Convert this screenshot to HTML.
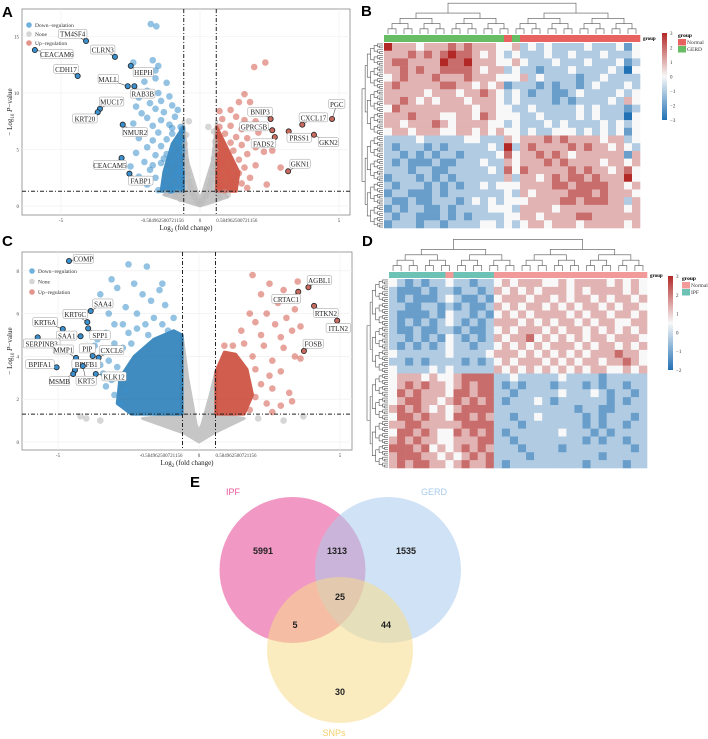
<!DOCTYPE html>
<html><head><meta charset="utf-8"><style>
body{margin:0;background:#fff;}
svg{display:block;font-family:"Liberation Serif",serif;}
.pl{font-family:"Liberation Sans",sans-serif;font-weight:bold;font-size:15px;}
</style></head><body>
<svg id="fig" width="708" height="739" viewBox="0 0 708 739" xmlns="http://www.w3.org/2000/svg">
<g id="gA"></g>
<g id="gC"></g>
<g id="gB"></g>
<g id="gD"></g>
<g id="gE"></g>
</svg>
<script>
// ---------- Volcano A data ----------
const aLabelNames=["TM4SF4","CLRN3","CEACAM6","CDH17","HEPH","MALL","RAB3B","MUC17","KRT20","NMUR2","CEACAM5","FABP1","BNIP3","GPRC5B","FADS2","PGC","CXCL17","PRSS1","GKN2","GKN1"];
const aLabelPts=[[-4.1,14.6],[-3.06,13.2],[-5.94,13.8],[-4.4,11.5],[-2.49,12.4],[-2.6,10.6],[-2.36,10.6],[-3.6,8.6],[-3.68,8.3],[-2.78,7.2],[-2.82,4.25],[-2.54,2.86],[2.54,7.7],[2.6,6.7],[2.69,6.1],[4.75,7.7],[3.68,7.2],[3.19,6.6],[4.1,6.3],[3.17,3.07]];
const aLabelPos=[[-4.58,15.2],[-3.5,13.8],[-5.15,13.4],[-4.82,12.1],[-2.04,11.8],[-3.3,11.2],[-2.06,9.9],[-3.18,9.2],[-4.14,7.7],[-2.34,6.5],[-3.24,3.6],[-2.13,2.2],[2.16,8.3],[1.94,7.0],[2.28,5.5],[4.92,9.0],[4.08,7.8],[3.57,6.0],[4.62,5.6],[3.6,3.7]];
const aDown=[[-1.77,16.1],[-1.57,15.9],[-2.4,12.7],[-1.7,12.9],[-1.5,12.4],[-1.6,12.0],[-2.0,11.0],[-1.6,11.3],[-1.2,10.9],[-1.5,10.0],[-1.9,10.2],[-2.2,9.6],[-1.4,9.3],[-1.8,9.1],[-1.1,9.7],[-2.3,8.8],[-1.6,8.6],[-1.0,8.9],[-2.1,8.2],[-1.3,8.3],[-0.8,8.5],[-1.9,7.8],[-1.4,7.6],[-0.9,7.9],[-2.4,7.3],[-1.7,7.1],[-1.1,7.2],[-0.7,7.0],[-2.0,6.6],[-1.5,6.5],[-1.0,6.4],[-0.65,6.8],[-2.2,6.0],[-1.7,5.8],[-1.2,5.9],[-0.8,5.7],[-1.9,5.2],[-1.4,5.3],[-1.0,5.0],[-0.7,5.4],[-2.3,4.7],[-1.6,4.5],[-1.2,4.6],[-0.8,4.4],[-2.0,3.9],[-1.4,3.8],[-1.0,3.9],[-0.7,3.6],[-2.5,3.5],[-1.8,3.2],[-1.2,3.1],[-0.85,3.0],[-0.65,2.8],[-2.2,2.6],[-1.6,2.5],[-1.1,2.3],[-0.75,2.2],[-1.9,1.9],[-1.3,1.8],[-0.9,1.6],[-0.7,1.5],[-1.5,1.4],[-1.05,1.35],[-0.65,4.9],[-0.65,5.9],[-0.7,3.2],[-0.9,2.7],[-1.3,4.2],[-1.7,3.6],[-1.0,6.9]];
const aUp=[[2.35,12.7],[1.95,12.3],[1.6,9.9],[1.8,9.2],[1.4,9.2],[1.1,8.5],[0.7,8.4],[1.3,7.9],[0.8,7.7],[1.6,7.6],[2.0,7.5],[0.7,7.0],[1.1,7.1],[1.5,6.8],[2.1,6.5],[0.9,6.4],[1.3,6.1],[1.7,6.0],[2.4,5.5],[0.7,5.9],[1.1,5.6],[1.5,5.4],[2.0,5.2],[0.8,5.0],[1.2,4.9],[1.7,4.6],[0.65,4.5],[1.0,4.3],[1.4,4.1],[2.3,4.8],[0.8,3.8],[1.2,3.6],[1.6,3.4],[2.0,3.6],[0.7,3.2],[1.0,3.0],[1.4,2.9],[1.8,2.5],[0.75,2.6],[1.1,2.3],[1.5,2.0],[0.8,1.9],[1.2,1.7],[1.7,1.6],[0.65,1.5],[2.4,1.9],[0.9,1.4],[2.9,3.4],[2.6,4.9]];
const aNone=[[0,0.2],[-0.1,0.4],[0.1,0.5],[-0.2,0.8],[0.2,0.9],[-0.3,1.2],[0.3,1.3],[-0.35,1.7],[0.35,1.8],[-0.4,2.2],[0.4,2.3],[-0.45,2.8],[0.45,2.9],[-0.5,3.4],[0.5,3.5],[-0.5,4.0],[0.5,4.2],[-0.55,4.8],[0.55,4.9],[-0.55,5.5],[0.55,5.7],[-0.5,6.3],[0.5,6.6],[-0.4,7.5],[0.3,7.0],[-0.9,0.9],[-0.7,0.6],[0.7,0.8],[1.0,1.0],[-1.2,1.1],[-0.6,1.1],[0.6,1.2],[-0.8,1.2],[0.9,1.25]];
const aDownDense=[[-0.6,1.3],[-1.4,1.3],[-1.3,3],[-1.0,5.5],[-0.6,7]];
const aUpDense=[[0.6,1.3],[1.3,1.3],[1.4,3],[1.0,5],[0.6,7]];
const aNoneDense=[[-0.6,7.5],[-0.6,1.3],[-1.3,1.0],[-0.4,0.3],[0,0],[0.4,0.3],[1.0,0.8],[0.6,1.3],[0.6,7.5],[0.45,4],[0.1,1.2],[0,0.6],[-0.1,1.2],[-0.45,4]];
const aYTicks=[0,5,10,15];
const aXTicks=[-5,-0.584962500721156,0,0.584962500721156,5];
// ---------- Volcano C data ----------
const cLabelNames=["COMP","SAA4","KRT6C","KRT6A","SAA1","SPP1","SERPINB3","MMP1","PIP","CXCL6","BPIFB1","BPIFA1","KLK12","MSMB","KRT5","AGBL1","CRTAC1","RTKN2","ITLN2","FOSB"];
const cLabelPts=[[-4.61,8.46],[-3.84,6.12],[-3.96,5.6],[-4.83,5.28],[-4.2,4.94],[-3.93,5.31],[-5.72,4.89],[-4.36,3.93],[-3.77,4.02],[-3.56,3.94],[-4.4,3.36],[-5.05,3.49],[-3.66,3.18],[-4.46,3.18],[-4.12,3.55],[3.88,7.23],[3.52,7.02],[4.08,6.36],[4.9,5.67],[3.72,4.25]];
const cLabelPos=[[-4.1,8.54],[-3.41,6.45],[-4.39,5.96],[-5.46,5.59],[-4.69,4.95],[-3.51,4.97],[-5.58,4.58],[-4.81,4.3],[-3.96,4.35],[-3.1,4.27],[-4.0,3.63],[-5.64,3.61],[-3.01,3.04],[-4.95,2.82],[-4.0,2.84],[4.27,7.54],[3.09,6.67],[4.5,6.01],[4.94,5.31],[4.05,4.57]];
const cDown=[[-2.5,8.3],[-1.85,8.2],[-3.1,7.6],[-2.9,7.2],[-2.3,7.4],[-1.4,7.1],[-1.3,7.4],[-3.5,6.9],[-2.0,6.9],[-1.7,6.6],[-2.6,6.3],[-1.2,6.4],[-3.2,6.0],[-2.2,6.0],[-1.6,5.8],[-0.9,5.8],[-3.0,5.5],[-2.7,5.5],[-1.9,5.5],[-3.3,5.1],[-2.5,5.1],[-3.6,4.8],[-3.0,4.6],[-2.7,4.4],[-3.4,4.2],[-3.2,3.8],[-2.9,3.5],[-3.4,3.2],[-3.1,2.9],[-2.6,2.4],[-3.0,2.2],[-2.8,1.8],[-3.3,2.6],[-2.2,5.3],[-1.3,5.5],[-3.7,4.5],[-3.5,3.6],[-2.4,4.6],[-1.8,5.0],[-1.1,5.2]];
const cUp=[[1.9,7.8],[2.5,7.4],[3.5,7.5],[2.2,6.9],[3.0,7.1],[2.8,6.5],[3.4,6.2],[1.8,6.0],[2.4,6.0],[3.1,5.8],[2.0,5.6],[2.7,5.5],[3.6,5.4],[3.3,5.2],[1.5,5.2],[2.2,5.0],[2.9,4.9],[1.6,4.6],[2.3,4.5],[3.0,4.4],[3.4,4.0],[3.6,3.9],[1.9,4.0],[2.6,3.8],[2.0,3.4],[2.5,3.1],[2.9,3.3],[2.2,2.7],[2.6,2.5],[3.2,2.3],[2.0,2.1],[2.4,1.8],[2.9,1.7],[1.8,1.5],[2.6,1.4],[3.3,1.9],[1.2,4.5],[0.9,4.5]];
const cNone=[[-4.0,1.1],[-3.5,1.0],[2.1,1.1],[3.0,1.0],[3.7,1.2],[-4.2,1.2]];
const cDownDense=[[-0.6,1.3],[-2.4,1.3],[-2.9,1.8],[-2.8,3.0],[-2.3,4.0],[-1.6,4.8],[-0.9,5.2],[-0.6,5.0]];
const cUpDense=[[0.6,1.3],[1.6,1.3],[1.9,2.2],[1.7,3.4],[1.3,4.1],[0.9,4.2],[0.6,3.3]];
const cNoneDense=[[-0.6,5.0],[-0.6,1.3],[-2.0,1.1],[-0.5,0.4],[0,0],[0.5,0.4],[1.6,1.1],[0.6,1.3],[0.6,3.3],[0.4,2.2],[0.1,0.8],[0,0.5],[-0.1,0.8],[-0.4,3]];
const cYTicks=[0,2,4,6,8];
const cXTicks=[-5,-0.584962500721156,0,0.584962500721156,5];
// ---------- Heatmap B data (rows of values -3..3 coded 0..6) ----------
const bGroups="GGGGGGGGGGGGGGGNGNNNNNNNNNNNNNNN";
const bRows=["64443444545444334232322223222313",
"44454545655434323222322322232223",
"45544446556444334322232223222312",
"44545445555434423221222322223203",
"34544454445444333423222212232222",
"45444445544343412221212212322232",
"44444344434454323212211232222323",
"44543434443444323222212122223243",
"35444444444344332232222232322212",
"44454443344354333223222232322203",
"44344454344443323222323222232323",
"34434443344343433232233323232313",
"22223222223322243444545444434423",
"21222121222223262454444545443432",
"22121212212222353445454344444414",
"21211121122232243444545444434434",
"22212211222223253544444545443453",
"12221212122222242443454554544463",
"21222121212232333444455455554434",
"12211121222222232434444555454443",
"21121122212323233344445545554424",
"12122112122223332444434444444434",
"21221112121222233443444455444444",
"12221221222233232344344434444434"];
const bTicks=[3,2,1,0,-1,-2,-3];
// ---------- Heatmap D data ----------
const dGroups="TTTTTTTNTTTTTNNNNNNNNNNNNNNNNNNN";
const dRows=["32121223221223434443343444434343",
"21112122122124343434443434444343",
"21211123211213444344343443434434",
"22112212121124343443434344343443",
"21111213221213434344443434434434",
"21212123212124443434344343443344",
"21121122121123434443434434343434",
"22121213212124344534343434434443",
"21212123221223434343444343443434",
"32222223222234443434343434445443",
"22121222212123434443434344344543",
"32222323222224343434343434433434",
"34443433455552232222232222122222",
"34545443454552121222122212122122",
"35454443554552212222232223212212",
"34554434545452122232122222212122",
"45454343455552222222222122112222",
"35545443554542212232222212122212",
"44554444455552221222222212122122",
"35545433545452122222232221212222",
"45454433444552212222222212122122",
"55545343454542221222212222222212",
"45554434345452222122222222122222",
"45455443454452122222222212222122"];
const dTicks=[3,2,1,0,-1,-2];
// ---------- Venn data ----------
const vennSets=["IPF","GERD","SNPs"];
const vennCounts=[5991,1313,1535,25,5,44,30];

const NS="http://www.w3.org/2000/svg";
function mk(parent,tag,attrs,name,txt){const e=document.createElementNS(NS,tag);for(const k in attrs)e.setAttribute(k,attrs[k]);


if(txt!==undefined)e.textContent=txt;parent.appendChild(e);return e;}

function volcano(g,cfg){
 const sx=v=>cfg.x0+cfg.kx*v, sy=v=>cfg.y0-cfg.ky*v;
 mk(g,'rect',{x:cfg.L,y:cfg.T,width:cfg.R-cfg.L,height:cfg.B-cfg.T,fill:'#fff',stroke:'#888','stroke-width':0.8},'plot-frame');
 cfg.yt.forEach(t=>{mk(g,'line',{x1:cfg.L,x2:cfg.R,y1:sy(t),y2:sy(t),stroke:'#eee','stroke-width':0.6},'y-gridline');
  mk(g,'text',{x:cfg.L-3,y:sy(t)+2,'font-size':5,'text-anchor':'end',fill:'#444'},'y-tick-label',String(t));});
 cfg.xt.forEach(t=>{mk(g,'line',{y1:cfg.T,y2:cfg.B,x1:sx(t),x2:sx(t),stroke:'#eee','stroke-width':0.6},'x-gridline');
  mk(g,'text',{x:sx(t),y:cfg.B+7,'font-size':5,'text-anchor':t<0&&t>-1?'end':(t>0&&t<1?'start':'middle'),fill:'#444'},'x-tick-label',String(t));});
 const poly=(pts,col,nm)=>mk(g,'polygon',{points:pts.map(p=>sx(p[0])+','+sy(p[1])).join(' '),fill:col,opacity:0.85,stroke:col,'stroke-width':3,'stroke-linejoin':'round'},nm);
 poly(cfg.noneD,'#bdbdbd','none-density');
 poly(cfg.downD,'#1f77b4','down-density');
 poly(cfg.upD,'#c8412f','up-density');
 cfg.none.forEach(p=>mk(g,'circle',{cx:sx(p[0]),cy:sy(p[1]),r:3.3,fill:'#bbb',opacity:0.6},'none-point'));
 cfg.down.forEach(p=>mk(g,'circle',{cx:sx(p[0]),cy:sy(p[1]),r:3.3,fill:'#3a8fcc',opacity:0.55},'down-point'));
 cfg.up.forEach(p=>mk(g,'circle',{cx:sx(p[0]),cy:sy(p[1]),r:3.3,fill:'#d4594a',opacity:0.55},'up-point'));
 [-0.584962500721156,0.584962500721156].forEach(v=>mk(g,'line',{x1:sx(v),x2:sx(v),y1:cfg.T,y2:cfg.B,stroke:'#222','stroke-width':1,'stroke-dasharray':'4 2 1 2'},'fc-threshold-line'));
 mk(g,'line',{x1:cfg.L,x2:cfg.R,y1:sy(1.3),y2:sy(1.3),stroke:'#222','stroke-width':1,'stroke-dasharray':'4 2 1 2'},'p-threshold-line');
 cfg.names.forEach((n,i)=>{const p=cfg.pts[i],q=cfg.pos[i];
  const px=sx(p[0]),py=sy(p[1]),qx=sx(q[0]),qy=sy(q[1]);
  mk(g,'line',{x1:px,y1:py,x2:qx,y2:qy,stroke:'#333','stroke-width':0.5},'label-leader');
  mk(g,'circle',{cx:px,cy:py,r:2.6,fill:p[0]<0?'#3a8fcc':'#c86a5f',stroke:'#222','stroke-width':0.8},'labeled-point');
  const w=n.length*4.1+4;
  mk(g,'rect',{x:qx-w/2,y:qy-5,width:w,height:9,rx:1.5,fill:'#fff',stroke:'#999','stroke-width':0.5},'gene-label-box');
  mk(g,'text',{x:qx,y:qy+2.5,'font-size':7,'text-anchor':'middle',fill:'#222'},'gene-label',n);});
 const lg=[['Down−regulation','#6fb0dd'],['None','#d5d5d5'],['Up−regulation','#e3958c']];
 lg.forEach((l,i)=>{mk(g,'circle',{cx:cfg.lgx,cy:cfg.lgy+i*cfg.lgd,r:2.8,fill:l[1]},'legend-dot');
  mk(g,'text',{x:cfg.lgx+6,y:cfg.lgy+i*cfg.lgd+2,'font-size':5.5,fill:'#333'},'legend-label',l[0]);});
 const t=mk(g,'text',{x:(cfg.L+cfg.R)/2,y:cfg.B+15,'font-size':7,'text-anchor':'middle',fill:'#222'},'x-axis-title');
 t.innerHTML='Log<tspan font-size="5" dy="2">2</tspan><tspan dy="-2"> (fold change)</tspan>';
 const yt=mk(g,'text',{transform:`translate(${cfg.L-10},${(cfg.T+cfg.B)/2}) rotate(-90)`,'font-size':7,'text-anchor':'middle',fill:'#222'},'y-axis-title');
 yt.innerHTML='− Log<tspan font-size="5" dy="2">10</tspan><tspan dy="-2"> </tspan><tspan font-style="italic">P</tspan>−value';
}
volcano(document.getElementById('gA'),{L:22,R:350,T:9,B:215,x0:200,kx:27.8,y0:206,ky:11.3,yt:aYTicks,xt:aXTicks,
 down:aDown,up:aUp,none:aNone,downD:aDownDense,upD:aUpDense,noneD:aNoneDense,names:aLabelNames,pts:aLabelPts,pos:aLabelPos,lgx:29,lgy:25,lgd:9});
volcano(document.getElementById('gC'),{L:22,R:352,T:252,B:450,x0:199,kx:28.2,y0:442,ky:21.4,yt:cYTicks,xt:cXTicks,
 down:cDown,up:cUp,none:cNone,downD:cDownDense,upD:cUpDense,noneD:cNoneDense,names:cLabelNames,pts:cLabelPts,pos:cLabelPos,lgx:32,lgy:271,lgd:10.5});

function colr(v,vmax){const t=Math.max(-1,Math.min(1,v/vmax));
 const w=[248,248,248],r=[178,40,38],b=[33,113,181];const e=t>0?r:b,a=Math.abs(t);
 return 'rgb('+w.map((c,i)=>Math.round(c+(e[i]-c)*a)).join(',')+')';}
function tree(g,lo,hi,pos,base,top,dir,depth){
 if(hi-lo<=1)return [pos(lo),base];
 const mid=Math.floor((lo+hi)/2);
 const a=tree(g,lo,mid,pos,base,top,dir,depth+1),b=tree(g,mid,hi,pos,base,top,dir,depth+1);
 const h=base+(top-base)*Math.min(1,(Math.log2(hi-lo))/5.2)*(depth===0?1:0.85);
 const d=dir==='v'?`M${a[0]},${a[1]}V${h}H${b[0]}V${b[1]}`:`M${a[1]},${a[0]}H${h}V${b[0]}H${b[1]}`;
 mk(g,'path',{d:d,fill:'none',stroke:'#555','stroke-width':0.6},'dendrogram-branch');
 return [(a[0]+b[0])/2,h];}
function heat(g,cfg){
 const nc=cfg.rows[0].length,nr=cfg.rows.length,cw=(cfg.x1-cfg.x0)/nc,rh=(cfg.y1-cfg.y0)/nr;
 cfg.rows.forEach((row,i)=>{for(let j=0;j<nc;j++){const c=row[j];const v=(c===undefined?3:+c)-3;
  mk(g,'rect',{x:cfg.x0+j*cw,y:cfg.y0+i*rh,width:cw+0.3,height:rh+0.3,fill:colr(v,3)},'heat-cell');}});
 for(let j=0;j<nc;j++)mk(g,'rect',{x:cfg.x0+j*cw,y:cfg.gy,width:cw+0.3,height:cfg.y0-cfg.gy-1,fill:cfg.gcol[cfg.groups[j]]},'group-cell');
 mk(g,'text',{x:cfg.x1+3,y:cfg.gy+5,'font-size':5,'font-weight':'bold'},'group-bar-label','group');
 tree(g,0,nc,j=>cfg.x0+(j+0.5)*cw,cfg.gy-1,cfg.dtop,'v',0);
 tree(g,0,nr*4,i=>cfg.y0+(i+0.5)*rh/4,cfg.x0-1,cfg.x0-22,'h',0);
 const cb=mk(g,'defs',{},'colorbar-defs');
 const lgd=mk(cb,'linearGradient',{id:cfg.id,x1:0,y1:0,x2:0,y2:1},'colorbar-gradient');
 [[0,colr(3,3)],[0.5,colr(0,3)],[1,colr(-3,3)]].forEach(s=>mk(lgd,'stop',{offset:s[0],'stop-color':s[1]},'gradient-stop'));
 mk(g,'rect',{x:cfg.cbx,y:cfg.cby0,width:5,height:cfg.cby1-cfg.cby0,fill:`url(#${cfg.id})`},'colorbar');
 const tk=cfg.ticks,span=tk[0]-tk[tk.length-1];
 tk.forEach(t=>mk(g,'text',{x:cfg.cbx+8,y:cfg.cby0+(tk[0]-t)/span*(cfg.cby1-cfg.cby0)+2,'font-size':5,fill:'#333'},'colorbar-tick',t<0?'−'+(-t):String(t)));
 mk(g,'text',{x:cfg.lgx,y:cfg.cby0+4,'font-size':5.5,'font-weight':'bold'},'legend-title','group');
 cfg.leg.forEach((l,i)=>{mk(g,'rect',{x:cfg.lgx,y:cfg.cby0+6+i*7,width:8,height:6.5,fill:l[1]},'legend-swatch');
  mk(g,'text',{x:cfg.lgx+9,y:cfg.cby0+11+i*7,'font-size':5.5,fill:'#333'},'legend-label',l[0]);});
}
heat(document.getElementById('gB'),{id:'gradB',x0:384,x1:640,y0:43,y1:228,gy:35,dtop:2,rows:bRows,groups:bGroups,
 gcol:{G:'#66bd63',N:'#e8625f'},ticks:bTicks,cbx:662,cby0:33,cby1:120,lgx:678,leg:[['Normal','#e8625f'],['GERD','#66bd63']]});
heat(document.getElementById('gD'),{id:'gradD',x0:389,x1:647,y0:279,y1:468,gy:272,dtop:238,rows:dRows,groups:dGroups,
 gcol:{T:'#6cc3b5',N:'#f2999a'},ticks:dTicks,cbx:668,cby0:276,cby1:370,lgx:682,leg:[['Normal','#f2999a'],['IPF','#6cc3b5']]});

// Venn
const gE=document.getElementById('gE');
const circ=[[292.5,570,'#e8559c'],[388,570,'#a9cbec'],[340,650,'#f8dc8a']];
circ.forEach((c,i)=>mk(gE,'circle',{cx:c[0],cy:c[1],r:73,fill:c[2],opacity:i===0?0.6:0.55},'venn-circle-'+vennSets[i].toLowerCase()));
const setLab=[[233,495,'#e8559c'],[434,495,'#a9cbec'],[334,736,'#f3cf6b']];
vennSets.forEach((s,i)=>mk(gE,'text',{x:setLab[i][0],y:setLab[i][1],'font-size':9,'text-anchor':'middle',fill:setLab[i][2],'font-family':'Liberation Sans, sans-serif'},'set-label',s));
const cntPos=[[263,554],[337,554],[406,554],[340,600],[295,628],[386,628],[340,695]];
vennCounts.forEach((v,i)=>mk(gE,'text',{x:cntPos[i][0],y:cntPos[i][1],'font-size':9,'font-weight':'bold','text-anchor':'middle',fill:'#222','font-family':'Liberation Sans, sans-serif'},'venn-count',String(v)));

const fig=document.getElementById('fig');
[['A',2,17],['B',361,16],['C',2,246],['D',362,246],['E',190,487]].forEach(l=>{
 mk(fig,'text',{x:l[1],y:l[2],class:'pl'},'panel-label-'+l[0].toLowerCase(),l[0]);});
</script>
</body></html>
